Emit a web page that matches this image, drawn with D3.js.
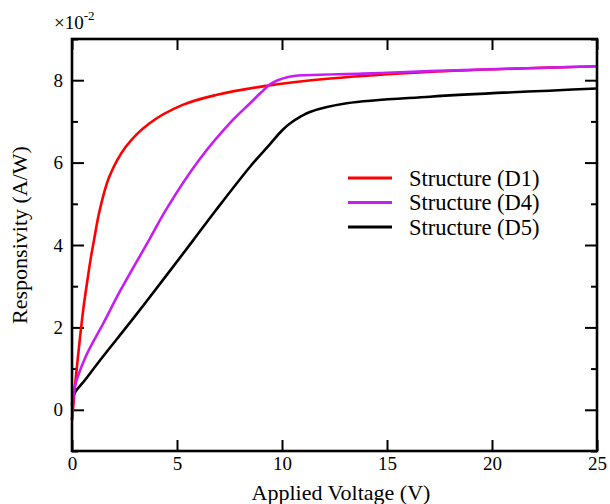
<!DOCTYPE html>
<html>
<head>
<meta charset="utf-8">
<script src="https://cdn.jsdelivr.net/npm/d3@7"></script>
<style>
  body { margin: 0; background: #fff; }
  svg text { font-family: "Liberation Serif", "Times New Roman", serif; fill: #000; }
</style>
</head>
<body>
<div id="chart"></div>
<script>
// data (responsivity in units of 1e-2 A/W)
var d1V = [0, 0.08, 0.16, 0.35, 0.54, 0.75, 0.9, 1.06, 1.3, 1.78, 2.57, 3.68, 5.27, 6.86, 9.08, 12.3, 17.0, 25];
var d1R = [-0.25, 0.2, 0.67, 1.6, 2.45, 3.2, 3.7, 4.15, 4.8, 5.66, 6.39, 6.95, 7.40, 7.64, 7.85, 8.04, 8.2, 8.34];

var d4V = [0, 0.06, 0.11, 0.67, 1.46, 2.33, 3.68, 4.48, 6.06, 7.65, 8.48, 9.0, 9.43, 9.8, 10.3, 11.0, 13.87, 17.05, 25];
var d4R = [-0.25, 0.27, 0.51, 1.31, 2.07, 2.92, 4.13, 4.86, 6.07, 7.03, 7.44, 7.7, 7.9, 8.0, 8.08, 8.12, 8.16, 8.22, 8.34];

var d5V = [0, 0.11, 0.6, 1.3, 2.89, 4.48, 5.75, 6.86, 8.48, 9.43, 10.0, 10.38, 10.9, 11.33, 13.08, 17.05, 25];
var d5R = [0.12, 0.39, 0.71, 1.18, 2.2, 3.25, 4.1, 4.85, 5.9, 6.45, 6.78, 6.95, 7.12, 7.23, 7.44, 7.6, 7.8];

var seriesNames = ["Structure (D1)", "Structure (D4)", "Structure (D5)"];
var seriesColors = ["#ff0000", "#c71cf5", "#000000"];
var xTicks = [0, 5, 10, 15, 20, 25];
var yTicks = [0, 2, 4, 6, 8];
var yMinor = [-1, 1, 3, 5, 7, 9];

var width = 610, height = 504;
var plotLeft = 72, plotRight = 597, plotTop = 39, plotBottom = 451;

var svg = d3.select("#chart").append("svg")
    .attr("width", width)
    .attr("height", height);

var x = d3.scaleLinear().domain([0, 25]).range([plotLeft, plotRight]);
var y = d3.scaleLinear().domain([-1, 9]).range([plotBottom, plotTop]);

function toPoints(xs, ys) {
  return xs.map(function(v, i) { return [v, ys[i]]; });
}
var series = [toPoints(d1V, d1R), toPoints(d4V, d4R), toPoints(d5V, d5R)];

// axes, ticks pointing inward
function styleAxis(g) {
  g.select(".domain").remove();
  g.selectAll(".tick line").attr("stroke", "#000").attr("stroke-width", 2);
  g.selectAll(".tick text").style("font-size", "19px").attr("fill", "#000");
}

svg.append("g")
    .attr("transform", "translate(0," + plotBottom + ")")
    .call(d3.axisBottom(x).tickValues(xTicks).tickSize(-11).tickPadding(6).tickFormat(d3.format("d")))
    .call(styleAxis);

svg.append("g")
    .attr("transform", "translate(0," + plotTop + ")")
    .call(d3.axisTop(x).tickValues(xTicks).tickSize(-11).tickFormat(""))
    .call(styleAxis);

svg.append("g")
    .attr("transform", "translate(" + plotLeft + ",0)")
    .call(d3.axisLeft(y).tickValues(yTicks).tickSize(-12).tickPadding(9).tickFormat(d3.format("d")))
    .call(styleAxis);

svg.append("g")
    .attr("transform", "translate(" + plotLeft + ",0)")
    .call(d3.axisLeft(y).tickValues(yMinor).tickSize(-6).tickFormat(""))
    .call(styleAxis);

svg.append("g")
    .attr("transform", "translate(" + plotRight + ",0)")
    .call(d3.axisRight(y).tickValues(yTicks).tickSize(-12).tickFormat(""))
    .call(styleAxis);

svg.append("g")
    .attr("transform", "translate(" + plotRight + ",0)")
    .call(d3.axisRight(y).tickValues(yMinor).tickSize(-6).tickFormat(""))
    .call(styleAxis);

// curves
var line = d3.line()
    .x(function(d) { return x(d[0]); })
    .y(function(d) { return y(d[1]); })
    .curve(d3.curveCatmullRom.alpha(0.5));

var drawOrder = [2, 0, 1];
drawOrder.forEach(function(i) {
  svg.append("path")
      .datum(series[i])
      .attr("fill", "none")
      .attr("stroke", seriesColors[i])
      .attr("stroke-width", 2.6)
      .attr("d", line);
});

// frame
svg.append("rect")
    .attr("x", plotLeft)
    .attr("y", plotTop)
    .attr("width", plotRight - plotLeft)
    .attr("height", plotBottom - plotTop)
    .attr("fill", "none")
    .attr("stroke", "#000")
    .attr("stroke-width", 2.6);

// legend
var legend = svg.append("g").attr("transform", "translate(348,178)");
seriesNames.forEach(function(name, i) {
  var row = legend.append("g").attr("transform", "translate(0," + (i * 24.5) + ")");
  row.append("line")
      .attr("x1", 0).attr("x2", 44)
      .attr("stroke", seriesColors[i])
      .attr("stroke-width", 3);
  row.append("text")
      .attr("x", 61)
      .attr("dy", "0.35em")
      .style("font-size", "22.5px")
      .text(name);
});

// axis titles
svg.append("text")
    .attr("x", 341)
    .attr("y", 500)
    .attr("text-anchor", "middle")
    .style("font-size", "22px")
    .text("Applied Voltage (V)");

svg.append("text")
    .attr("transform", "translate(27,235) rotate(-90)")
    .attr("text-anchor", "middle")
    .style("font-size", "22px")
    .text("Responsivity (A/W)");

// exponent label
var expo = svg.append("text")
    .attr("x", 54)
    .attr("y", 29)
    .style("font-size", "19px");
expo.append("tspan").text("\u00d710");
expo.append("tspan")
    .attr("dy", -9)
    .style("font-size", "13px")
    .text("-2");
</script>
</body>
</html>
